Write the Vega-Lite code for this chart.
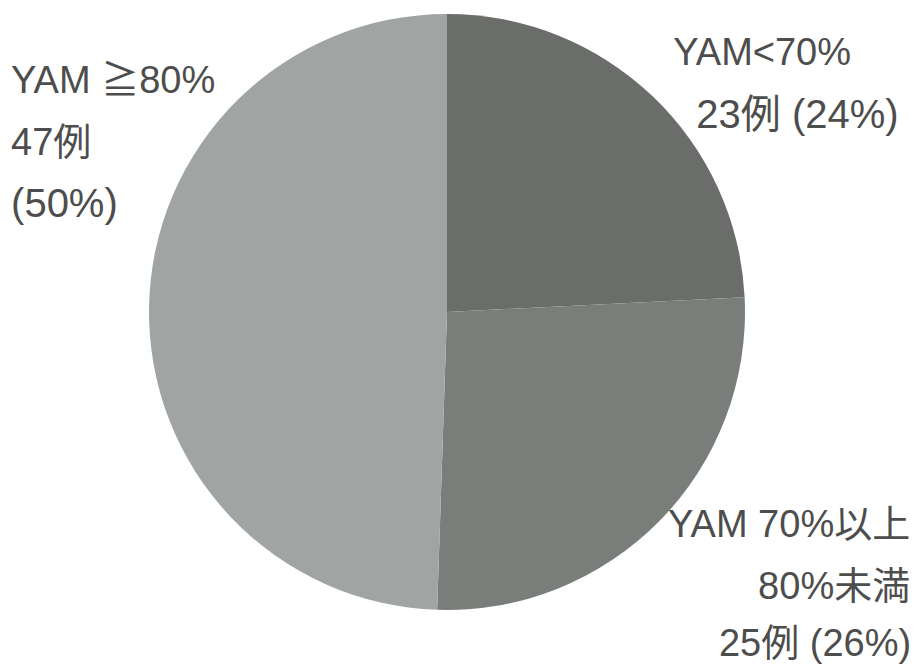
{
  "$schema": "https://vega.github.io/schema/vega-lite/v6.json",
  "width": 596,
  "height": 600,
  "autosize": {"type": "none"},
  "padding": {"left": 149, "top": 12, "right": 169, "bottom": 55},
  "background": "white",
  "data": {
    "values": [
      {"cat": "YAM<70%", "count": 23, "order": 1, "label": "YAM<70%", "label2": "23例 (24%)"},
      {"cat": "YAM 70%以上80%未満", "count": 25, "order": 2, "label": "YAM 70%以上\n80%未満", "label2": "25例 (26%)"},
      {"cat": "YAM≧80%", "count": 47, "order": 3, "label": "YAM ≧80%\n47例", "label2": "(50%)"}
    ]
  },
  "encoding": {
    "theta": {"field": "count", "type": "quantitative", "stack": true},
    "order": {"field": "order", "type": "quantitative"}
  },
  "layer": [
    {
      "mark": {"type": "arc", "radius": 298, "strokeWidth": 0},
      "encoding": {
        "color": {
          "field": "cat",
          "type": "nominal",
          "scale": {
            "domain": ["YAM<70%", "YAM 70%以上80%未満", "YAM≧80%"],
            "range": ["#6b6d6a", "#7a7e7b", "#a0a4a2"]
          },
          "legend": null
        }
      }
    },
    {
      "mark": {"type": "text", "radius": 350, "align": "left", "baseline": "middle", "dx": -15, "dy": -4},
      "encoding": {"text": {"condition": {"test": "datum.order === 1", "field": "label"}, "value": ""}}
    },
    {
      "mark": {"type": "text", "radius": 350, "align": "left", "baseline": "middle", "dx": 8, "dy": 58, "fontSize": 40},
      "encoding": {"text": {"condition": {"test": "datum.order === 1", "field": "label2"}, "value": ""}}
    },
    {
      "mark": {"type": "text", "radius": 400, "align": "right", "baseline": "middle", "dx": 178, "dy": -66, "lineBreak": "\n", "lineHeight": 62},
      "encoding": {"text": {"condition": {"test": "datum.order === 2", "field": "label"}, "value": ""}}
    },
    {
      "mark": {"type": "text", "radius": 400, "align": "right", "baseline": "middle", "dx": 179, "dy": 53, "fontSize": 38},
      "encoding": {"text": {"condition": {"test": "datum.order === 2", "field": "label2"}, "value": ""}}
    },
    {
      "mark": {"type": "text", "radius": 434, "align": "left", "baseline": "middle", "dx": -2, "dy": -223, "lineBreak": "\n", "lineHeight": 62},
      "encoding": {"text": {"condition": {"test": "datum.order === 3", "field": "label"}, "value": ""}}
    },
    {
      "mark": {"type": "text", "radius": 434, "align": "left", "baseline": "middle", "dx": -2, "dy": -100, "fontSize": 40},
      "encoding": {"text": {"condition": {"test": "datum.order === 3", "field": "label2"}, "value": ""}}
    }
  ],
  "config": {
    "view": {"stroke": null},
    "text": {"fontSize": 38, "font": "Liberation Sans, Noto Sans CJK JP, sans-serif", "color": "#4d4d4d"}
  }
}
